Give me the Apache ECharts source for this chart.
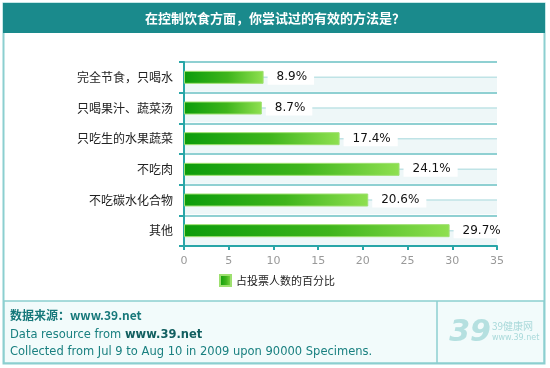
<!DOCTYPE html>
<html><head><meta charset="utf-8">
<script src="https://cdn.jsdelivr.net/npm/echarts@6/dist/echarts.min.js"></script>
<style>html,body{margin:0;padding:0;background:#fff}#c{width:550px;height:368px}</style>
</head><body><div id="c"></div>
<script>
const categories = ['完全节食，只喝水','只喝果汁、蔬菜汤','只吃生的水果蔬菜','不吃肉','不吃碳水化合物','其他'];
const values = [8.9, 8.7, 17.4, 24.1, 20.6, 29.7];
const seriesName = '占投票人数的百分比';
const titleText = '在控制饮食方面，你尝试过的有效的方法是？';
const axisMax = 35;

const chart = echarts.init(document.getElementById('c'), null, {renderer:'canvas'});
const teal = '#1a8a8c';
const frame = '#8ccfd0';
chart.setOption({
  animation:false,
  textStyle:{fontFamily:'"DejaVu Sans","Noto Sans CJK SC",sans-serif'},
  graphic:[
    {type:'rect', shape:{x:3.5,y:3.5,width:541,height:360}, style:{fill:'#fff',stroke:frame,lineWidth:2}, z:-10},
    {type:'rect', shape:{x:3,y:3,width:542,height:30}, style:{fill:teal}, z:-9},
    {type:'text', x:275, y:18, style:{text:titleText, fill:'#fff', font:'bold 13px "Noto Sans CJK SC"', align:'center', verticalAlign:'middle'}},
    {type:'rect', shape:{x:4,y:301,width:540,height:62}, style:{fill:'#f2fbfb',stroke:frame,lineWidth:1.5}, z:-8},
    {type:'line', shape:{x1:437,y1:301,x2:437,y2:363}, style:{stroke:frame,lineWidth:1.5}},
    {type:'text', x:10, y:315, style:{text:'数据来源：www.39.net', fill:'#16787a', font:'bold 12px "Noto Sans CJK SC"', verticalAlign:'middle'}},
    {type:'text', x:10, y:335, style:{text:'Data resource from {b|www.39.net}', fill:'#1a8080', font:'11.5px "DejaVu Sans"', verticalAlign:'middle', rich:{b:{fontWeight:'bold', fill:'#125f60', fontSize:11.5, fontFamily:'DejaVu Sans'}}}},
    {type:'text', x:10, y:352, style:{text:'Collected from Jul 9 to Aug 10 in 2009 upon 90000 Specimens.', fill:'#1a8080', font:'11.5px "DejaVu Sans"', verticalAlign:'middle'}},
    {type:'text', x:470, y:333, style:{text:'39', fill:'#b5e0e0', font:'italic bold 30px "DejaVu Sans"', align:'center', verticalAlign:'middle'}},
    {type:'text', x:492, y:326, style:{text:'39健康网', fill:'#a9d9da', font:'10px "Noto Sans CJK SC"', verticalAlign:'middle'}},
    {type:'text', x:492, y:338, style:{text:'www.39.net', fill:'#a9d9da', font:'8px "DejaVu Sans"', verticalAlign:'middle'}}
  ],
  grid:{left:184, right:53, top:62, bottom:122},
  legend:{data:[seriesName], top:269, left:214, itemWidth:11, itemHeight:11, itemGap:5,
    textStyle:{fontSize:11, color:'#222', fontFamily:'"Noto Sans CJK SC"'},
    icon:'rect'},
  xAxis:{type:'value', min:0, max:axisMax, interval:5,
    axisLine:{show:true, lineStyle:{color:'#29a6a8', width:2}},
    axisTick:{show:true, length:4, lineStyle:{color:'#29a6a8', width:2}},
    axisLabel:{color:'#999', fontSize:11, margin:10, fontFamily:'DejaVu Sans'},
    splitLine:{show:false}},
  yAxis:{type:'category', data:categories, inverse:true,
    axisLine:{show:true, lineStyle:{color:'#29a6a8', width:2}},
    axisTick:{show:true, length:5, lineStyle:{color:'#29a6a8', width:2}},
    axisLabel:{color:'#222', fontSize:12, margin:11, fontFamily:'"Noto Sans CJK SC"'},
    splitLine:{show:true, lineStyle:{color:'#8fd0d2', width:2}}},
  series:[
    {type:'custom', silent:true, z:1, legendHoverLink:false,
      data:categories.map((c,i)=>[axisMax,i]),
      renderItem:function(params, api){
        const p0 = api.coord([0, api.value(1)]);
        const p1 = api.coord([api.value(0), api.value(1)]);
        const h = api.size([0,1])[1];
        return {type:'group', children:[
          {type:'rect', shape:{x:p0[0]+1, y:p0[1], width:p1[0]-p0[0]-1, height:h/2-1}, style:{fill:'#eef7f8'}},
          {type:'line', shape:{x1:p0[0]+1, y1:p0[1], x2:p1[0], y2:p0[1]}, style:{stroke:'#bfe3e6', lineWidth:1.5}}
        ]};
      }},
    {type:'bar', name:seriesName, data:values, barWidth:13, z:3,
      itemStyle:{color:new echarts.graphic.LinearGradient(0,0,1,0,[
        {offset:0,color:'#0b9c0b'},{offset:0.55,color:'#3fb51c'},{offset:1,color:'#8fe050'}]),
        borderColor:'#9ee070', borderWidth:1},
      label:{show:true, position:'right', distance:4, formatter:'{c}%', color:'#111', fontSize:12,
        fontFamily:'DejaVu Sans', backgroundColor:'#fff', padding:[2,7,1,9]}}
  ]
});
</script></body></html>
